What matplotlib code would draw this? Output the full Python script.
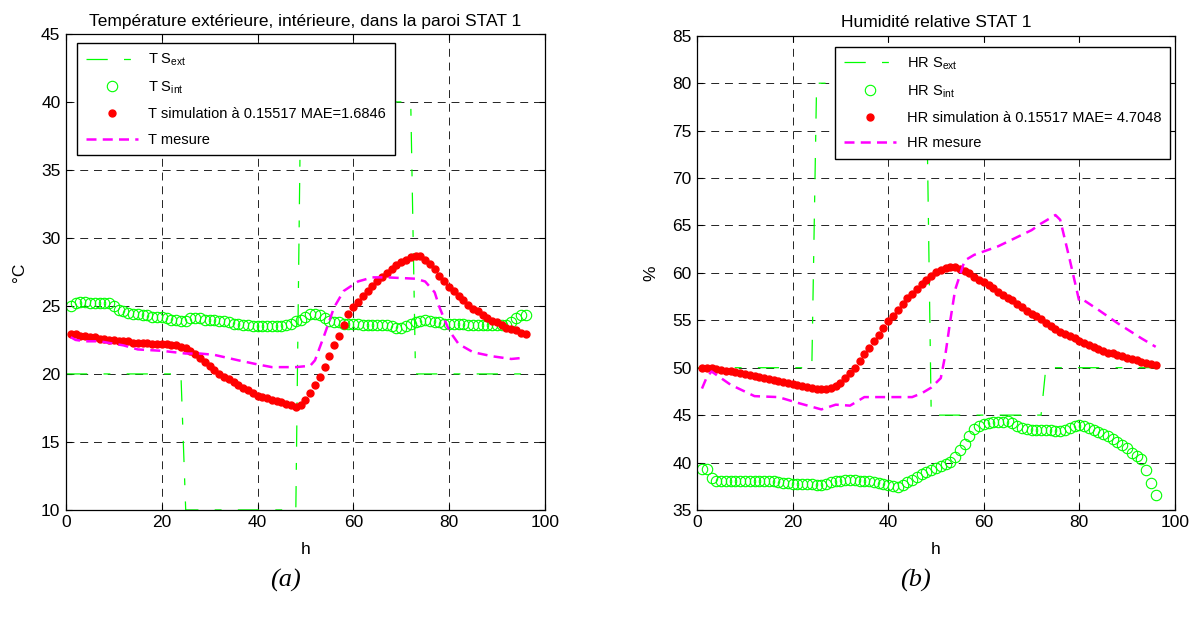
import numpy as np
import matplotlib
matplotlib.use("Agg")
import matplotlib.pyplot as plt

plt.rcParams["font.family"] = ["Liberation Sans", "DejaVu Sans"]
plt.rcParams["mathtext.fontset"] = "custom"
plt.rcParams["mathtext.rm"] = "Liberation Sans"
plt.rcParams["mathtext.it"] = "Liberation Sans:italic"

# hours for the hourly marker series
hours = list(range(1, 97))

# outside temperature (step signal, breakpoints)
t_ext_h = [0, 24, 25, 48, 49, 72, 73, 96]
t_ext = [20, 20, 10, 10, 40, 40, 20, 20]

# inside temperature, hourly
t_int = [25.0, 25.2, 25.3, 25.3, 25.2, 25.2, 25.2, 25.2, 25.2, 25.0,
         24.7, 24.6, 24.5, 24.4, 24.4, 24.3, 24.3, 24.2, 24.2, 24.2,
         24.1, 24.0, 24.0, 23.9, 23.9, 24.1, 24.1, 24.1, 24.0, 24.0,
         24.0, 23.9, 23.9, 23.8, 23.7, 23.7, 23.6, 23.6, 23.5, 23.5,
         23.5, 23.5, 23.5, 23.5, 23.5, 23.6, 23.7, 23.9, 24.0, 24.2,
         24.4, 24.4, 24.3, 24.1, 23.9, 23.8, 23.8, 23.7, 23.7, 23.7,
         23.7, 23.6, 23.6, 23.6, 23.6, 23.6, 23.6, 23.5, 23.4, 23.4,
         23.5, 23.7, 23.8, 23.9, 24.0, 23.9, 23.8, 23.8, 23.7, 23.7,
         23.7, 23.7, 23.7, 23.6, 23.6, 23.6, 23.6, 23.6, 23.6, 23.6,
         23.6, 23.6, 23.8, 24.1, 24.3, 24.3]

# simulated temperature, hourly
t_sim = [22.9, 22.9, 22.8, 22.8, 22.7, 22.7, 22.6, 22.6, 22.5, 22.5,
         22.4, 22.4, 22.4, 22.3, 22.3, 22.3, 22.3, 22.2, 22.2, 22.2,
         22.2, 22.1, 22.1, 22.0, 21.9, 21.7, 21.5, 21.2, 20.9, 20.6,
         20.3, 20.0, 19.8, 19.6, 19.4, 19.2, 19.0, 18.8, 18.6, 18.4,
         18.3, 18.2, 18.1, 18.0, 17.9, 17.8, 17.7, 17.6, 17.7, 18.1,
         18.6, 19.2, 19.8, 20.5, 21.3, 22.1, 22.8, 23.6, 24.4, 24.9,
         25.3, 25.7, 26.1, 26.5, 26.8, 27.1, 27.4, 27.7, 28.0, 28.2,
         28.4, 28.6, 28.7, 28.7, 28.4, 28.1, 27.7, 27.2, 26.8, 26.4,
         26.1, 25.7, 25.4, 25.1, 24.8, 24.6, 24.3, 24.1, 23.9, 23.8,
         23.6, 23.4, 23.3, 23.2, 23.0, 22.9]

# measured temperature (line breakpoints)
t_mes_h = [1, 2, 4, 7, 12, 15, 20, 25, 28, 31, 36, 40, 43, 48, 51, 52, 54, 56,
           58, 61, 64, 67, 73, 75, 77, 78, 80, 82, 85, 89, 93, 96]
t_mes = [22.7, 22.5, 22.4, 22.4, 22.1, 21.8, 21.7, 21.5, 21.5, 21.4, 21.0, 20.7,
         20.5, 20.5, 20.6, 21.0, 22.9, 24.9, 26.1, 26.8, 27.1, 27.1, 27.0, 26.8,
         26.0, 24.9, 23.2, 22.2, 21.6, 21.3, 21.1, 21.2]

# outside relative humidity (step signal, breakpoints)
hr_ext_h = [0, 24, 25, 48, 49, 72, 73, 96]
hr_ext = [50, 50, 80, 80, 45, 45, 50, 50]

# inside relative humidity, hourly
hr_int = [39.3, 39.3, 38.4, 38.1, 38.1, 38.1, 38.0, 38.0, 38.0, 38.0,
          38.0, 38.0, 38.0, 38.0, 38.0, 38.0, 37.9, 37.8, 37.8, 37.7,
          37.7, 37.7, 37.7, 37.7, 37.6, 37.6, 37.7, 37.9, 38.0, 38.1,
          38.2, 38.2, 38.2, 38.1, 38.0, 38.0, 37.9, 37.8, 37.7, 37.6,
          37.5, 37.4, 37.6, 37.9, 38.2, 38.5, 38.8, 39.0, 39.2, 39.4,
          39.6, 39.8, 40.1, 40.6, 41.3, 42.0, 42.8, 43.5, 43.9, 44.1,
          44.2, 44.3, 44.3, 44.3, 44.4, 44.2, 43.9, 43.6, 43.5, 43.4,
          43.4, 43.4, 43.4, 43.4, 43.3, 43.3, 43.4, 43.6, 43.8, 44.0,
          43.8, 43.6, 43.4, 43.2, 43.0, 42.8, 42.5, 42.2, 41.9, 41.5,
          41.0, 40.7, 40.4, 39.2, 37.8, 36.6]

# simulated relative humidity, hourly
hr_sim = [50.0, 50.0, 50.0, 49.9, 49.8, 49.7, 49.6, 49.5, 49.4, 49.3,
          49.2, 49.1, 49.0, 48.9, 48.8, 48.7, 48.6, 48.5, 48.4, 48.3,
          48.2, 48.1, 48.0, 47.9, 47.8, 47.8, 47.8, 47.9, 48.1, 48.4,
          48.9, 49.4, 50.0, 50.7, 51.4, 52.1, 52.8, 53.5, 54.2, 54.9,
          55.5, 56.1, 56.7, 57.3, 57.8, 58.3, 58.8, 59.3, 59.7, 60.1,
          60.3, 60.5, 60.6, 60.6, 60.4, 60.2, 60.0, 59.6, 59.3, 59.0,
          58.7, 58.4, 58.0, 57.7, 57.4, 57.1, 56.7, 56.4, 56.0, 55.7,
          55.4, 55.1, 54.7, 54.4, 54.1, 53.8, 53.6, 53.3, 53.1, 52.8,
          52.6, 52.4, 52.2, 52.0, 51.8, 51.6, 51.5, 51.3, 51.2, 51.0,
          50.9, 50.8, 50.6, 50.5, 50.4, 50.3]

# measured relative humidity (line breakpoints)
hr_mes_h = [1, 2, 3, 7, 12, 17, 21, 26, 29, 32, 35, 40, 45, 47, 49, 51, 52, 53,
            54, 56, 58, 63, 70, 72, 75, 76, 78, 80, 81, 84, 88, 93, 96]
hr_mes = [47.8, 49.0, 49.6, 48.2, 47.0, 46.9, 46.3, 45.6, 46.1, 46.0, 46.9, 46.9,
          46.9, 47.3, 47.9, 48.9, 51.5, 55.0, 58.2, 61.3, 61.9, 62.8, 64.5, 65.2,
          66.1, 65.6, 61.4, 57.0, 57.1, 56.1, 54.7, 53.1, 52.2]

GREEN = (0, 1, 0)
RED = (1, 0, 0)
MAGENTA = (1, 0, 1)


def draw_panel(ax, ext_h, ext, v_int, v_sim, mes_h, mes, labels, title, ylabel,
               ylim, yticks, leg_loc, leg_anchor):
    ax.plot(ext_h, ext, color=GREEN, lw=0.9, ls=(0, (17, 13, 5.5, 13)), label=labels[0])
    ax.plot(hours, v_int, ls="none", marker="o", ms=7.5, mfc="none", mec=GREEN,
            mew=0.8, label=labels[1])
    ax.plot(hours, v_sim, ls="none", marker="o", ms=5, mfc=RED, mec=RED,
            label=labels[2])
    ax.plot(mes_h, mes, color=MAGENTA, lw=1.8, ls=(0, (4, 2.5)), label=labels[3])

    ax.set_xlim(0, 100)
    ax.set_ylim(*ylim)
    ax.set_xticks([0, 20, 40, 60, 80, 100])
    ax.set_yticks(yticks)
    ax.tick_params(direction="in", top=True, right=True, labelsize=12.5,
                   length=4, pad=4)
    ax.grid(True, color="black", lw=0.6, ls=(0, (9.5, 7)))
    ax.set_title(title, fontsize=12.5, pad=6)
    ax.set_xlabel("h", fontsize=12.5, labelpad=8)
    ax.set_ylabel(ylabel, fontsize=12.5, labelpad=10)
    for s in ax.spines.values():
        s.set_linewidth(0.9)

    leg = ax.legend(loc=leg_loc, bbox_to_anchor=leg_anchor, borderaxespad=0,
                    fontsize=10.5, fancybox=False, framealpha=1, edgecolor="black",
                    handlelength=3.6, handletextpad=0.7, borderpad=0.6,
                    labelspacing=0.78)
    leg.get_frame().set_linewidth(1.0)


fig = plt.figure(figsize=(12, 6.28), dpi=100)
ax1 = fig.add_axes([0.055, 0.188, 0.399, 0.758])
ax2 = fig.add_axes([0.581, 0.188, 0.398, 0.755])

draw_panel(ax1, t_ext_h, t_ext, t_int, t_sim, t_mes_h, t_mes,
           ["T S$_{\\mathrm{ext}}$", "T S$_{\\mathrm{int}}$",
            "T simulation à 0.15517 MAE=1.6846", "T mesure"],
           "Température extérieure, intérieure, dans la paroi STAT 1", "°C",
           (10, 45), [10, 15, 20, 25, 30, 35, 40, 45], "upper left", (0.023, 0.981))

draw_panel(ax2, hr_ext_h, hr_ext, hr_int, hr_sim, hr_mes_h, hr_mes,
           ["HR S$_{\\mathrm{ext}}$", "HR S$_{\\mathrm{int}}$",
            "HR simulation à 0.15517 MAE= 4.7048", "HR mesure"],
           "Humidité relative STAT 1", "%",
           (35, 85), [35, 40, 45, 50, 55, 60, 65, 70, 75, 80, 85], "upper right",
           (0.9895, 0.977))

# panel captions
fig.text(0.2375, 0.075, "(a)", fontsize=19, style="italic",
         family=["Liberation Serif"], ha="center", va="center")
fig.text(0.7625, 0.075, "(b)", fontsize=19, style="italic",
         family=["Liberation Serif"], ha="center", va="center")

fig.savefig("out.png", dpi=100)
